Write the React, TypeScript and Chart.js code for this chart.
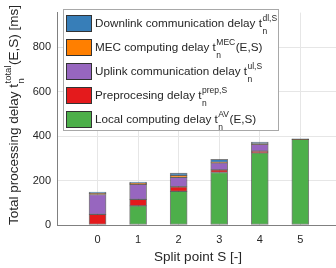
import React, { useEffect, useRef } from "react";
import { Chart, registerables } from "chart.js";

Chart.register(...registerables);

const splitPoints = [0, 1, 2, 3, 4, 5];
const localDelay = [0, 86, 151, 236, 324, 385];
const prepDelay = [48, 29, 21, 12, 8, 0];
const uplinkDelay = [89, 68, 42, 31, 31, 0];
const mecDelay = [5, 4, 9, 2, 1, 1];
const downlinkDelay = [6, 6, 10, 14, 9, 1];
const yTicks = [0, 200, 400, 600, 800];

const PURPLE = "#9766bf";

const legendItems = [
  { color: "#377eb8", main: "Downlink communication delay t", sup: "dl,S", sub: "n", tail: "" },
  { color: "#ff7f00", main: "MEC computing delay t", sup: "MEC", sub: "n", tail: "(E,S)" },
  { color: PURPLE, main: "Uplink communication delay t", sup: "ul,S", sub: "n", tail: "" },
  { color: "#e41a1c", main: "Preprocesing delay t", sup: "prep,S", sub: "n", tail: "" },
  { color: "#4daf4a", main: "Local computing delay t", sup: "AV", sub: "n", tail: "(E,S)" },
];

const FONT = "'Liberation Sans', Arial, sans-serif";
const TXT = "#262626";

const overlay = {
  id: "overlay",
  afterDraw(chart: any) {
    const ctx = chart.ctx as CanvasRenderingContext2D;
    ctx.save();
    // Legend box
    const bx = 63.5, by = 9.5, bw = 215, bh = 121;
    ctx.fillStyle = "#ffffff";
    ctx.fillRect(bx, by, bw, bh);
    ctx.strokeStyle = "#a8a8a8";
    ctx.lineWidth = 1;
    ctx.strokeRect(bx, by, bw, bh);
    legendItems.forEach((it, i) => {
      const top = 15 + i * 24;
      ctx.fillStyle = it.color;
      ctx.fillRect(66, top, 26, 17);
      ctx.strokeStyle = "#333333";
      ctx.strokeRect(66.5, top + 0.5, 25, 16);
      const cy = top + 9;
      ctx.fillStyle = TXT;
      ctx.textBaseline = "middle";
      ctx.textAlign = "left";
      ctx.font = `11.7px ${FONT}`;
      let x = 95;
      ctx.fillText(it.main, x, cy);
      x += ctx.measureText(it.main).width + 0.5;
      ctx.font = `8.5px ${FONT}`;
      ctx.fillText(it.sup, x, cy - 5);
      ctx.fillText(it.sub, x, cy + 8);
      const w = Math.max(ctx.measureText(it.sup).width, ctx.measureText(it.sub).width);
      x += w + 0.5;
      if (it.tail) {
        ctx.font = `11.7px ${FONT}`;
        ctx.fillText(it.tail, x, cy);
      }
    });
    // X title
    ctx.font = `13.5px ${FONT}`;
    ctx.textAlign = "center";
    ctx.textBaseline = "middle";
    ctx.fillStyle = TXT;
    ctx.fillText("Split point S [-]", 198, 257);
    // Y title (rotated)
    ctx.translate(14, 115);
    ctx.rotate(-Math.PI / 2);
    const m1 = "Total processing delay t";
    const m2 = "(E,S) [ms]";
    ctx.font = `13.5px ${FONT}`;
    const w1 = ctx.measureText(m1).width;
    const w3 = ctx.measureText(m2).width;
    ctx.font = `9.5px ${FONT}`;
    const w2 = Math.max(ctx.measureText("total").width, ctx.measureText("n").width);
    const total = w1 + w2 + w3 + 1;
    let x = -total / 2;
    ctx.textAlign = "left";
    ctx.font = `13.5px ${FONT}`;
    ctx.fillText(m1, x, 0);
    x += w1 + 0.5;
    ctx.font = `9.5px ${FONT}`;
    ctx.fillText("total", x, -6);
    ctx.fillText("n", x, 7);
    x += w2 + 0.5;
    ctx.font = `13.5px ${FONT}`;
    ctx.fillText(m2, x, 0);
    ctx.restore();
  },
};

function mk(label: string, values: number[], color: string) {
  return {
    label,
    data: splitPoints.map((s, i) => ({ x: s, y: values[i] })),
    backgroundColor: color,
    borderColor: "rgba(40,40,40,0.6)",
    borderWidth: 1,
    borderSkipped: false,
    barThickness: 17,
  };
}

export default function App() {
  const ref = useRef<HTMLCanvasElement>(null);
  useEffect(() => {
    document.body.style.margin = "0";
    const chart = new Chart(ref.current!, {
      type: "bar",
      data: {
        datasets: [
          mk("Local", localDelay, "#4daf4a"),
          mk("Prep", prepDelay, "#e41a1c"),
          mk("Uplink", uplinkDelay, PURPLE),
          mk("MEC", mecDelay, "#ff7f00"),
          mk("Downlink", downlinkDelay, "#377eb8"),
        ] as any,
      },
      options: {
        responsive: false,
        animation: false,
        layout: { padding: { top: 4, right: 0, left: 0, bottom: 0 } },
        plugins: { legend: { display: false }, tooltip: { enabled: false }, title: { display: false } },
        scales: {
          x: {
            type: "linear",
            stacked: true,
            offset: false,
            min: -1,
            max: 5.88,
            afterBuildTicks: (s: any) => {
              s.ticks = splitPoints.map((v) => ({ value: v }));
            },
            afterFit: (s: any) => {
              s.height = 43;
            },
            grid: { color: "#e6e6e6", drawTicks: false, offset: false },
            border: { color: "#808080" },
            ticks: { padding: 8, color: TXT, font: { family: FONT, size: 11 } },
          },
          y: {
            stacked: true,
            min: 0,
            max: 955,
            afterBuildTicks: (s: any) => {
              s.ticks = yTicks.map((v) => ({ value: v }));
            },
            afterFit: (s: any) => {
              s.width = 57;
            },
            grid: { color: "#e6e6e6", drawTicks: false },
            border: { color: "#808080" },
            ticks: { padding: 6, color: TXT, font: { family: FONT, size: 11 } },
          },
        },
      },
      plugins: [overlay],
    });
    return () => chart.destroy();
  }, []);
  return <canvas ref={ref} width={336} height={268} style={{ display: "block" }} />;
}
